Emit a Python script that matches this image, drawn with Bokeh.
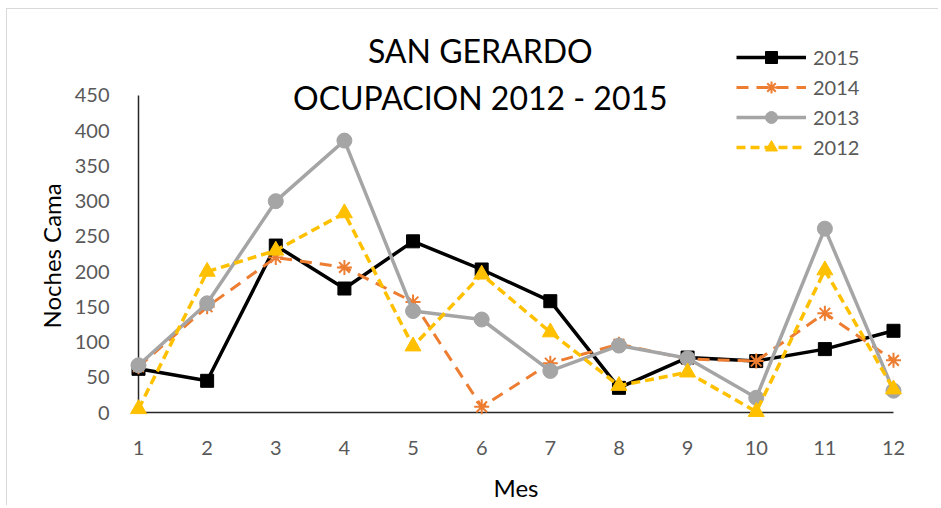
from bokeh.plotting import figure
from bokeh.models import Range1d, FixedTicker, Legend, LegendItem, Label, ColumnDataSource, Title
from bokeh.embed import file_html
from bokeh.resources import INLINE

# ---- data ----
months = [1, 2, 3, 4, 5, 6, 7, 8, 9, 10, 11, 12]
occ_2015 = [62, 45, 237, 176, 243, 203, 158, 35, 78, 73, 90, 116]
occ_2014 = [65, 150, 220, 206, 157, 8, 70, 97, 76, 73, 141, 74]
occ_2013 = [67, 155, 300, 386, 144, 132, 59, 95, 77, 21, 261, 31]
occ_2012 = [5, 200, 230, 283, 94, 196, 114, 38, 57, 1, 202, 33]
y_ticks = [0, 50, 100, 150, 200, 250, 300, 350, 400, 450]
title_lines = ["SAN GERARDO", "OCUPACION 2012 - 2015"]

FONT = "Lato"
TICK_COLOR = "#595959"

p = figure(width=932, height=497, output_backend="svg", toolbar_location=None,
           x_range=Range1d(0.796, 12.204), y_range=Range1d(-17.03, 572.08),
           min_border_left=117, min_border_right=32, min_border_top=0, min_border_bottom=82)
p.styles = {"margin-left": "6px", "margin-top": "8px",
            "border-left": "1px solid #d9d9d9", "border-top": "1px solid #d9d9d9"}
p.outline_line_color = None
p.grid.visible = False
p.background_fill_color = "white"
p.border_fill_color = "white"

# axes
p.xaxis.ticker = FixedTicker(ticks=months)
p.yaxis.ticker = FixedTicker(ticks=y_ticks)
for ax in (p.xaxis[0], p.yaxis[0]):
    ax.axis_line_color = None
    ax.major_tick_line_color = None
    ax.minor_tick_line_color = None
    ax.major_label_text_font = FONT
    ax.major_label_text_font_size = "20px"
    ax.major_label_text_color = TICK_COLOR
    ax.axis_label_text_font = FONT
    ax.axis_label_text_font_size = "24px"
    ax.axis_label_text_font_style = "normal"
    ax.axis_label_text_color = "#000000"
p.xaxis.axis_label = "Mes"
p.xaxis.major_label_standoff = 10
p.yaxis.major_label_standoff = 9
p.xaxis.axis_label_standoff = 15

# y-axis title, placed along the 0..450 span
ytitle = Title(text="Noches Cama", align="left", offset=96, standoff=12,
               text_font=FONT, text_font_size="24px", text_font_style="normal", text_color="#000000")
p.add_layout(ytitle, "left")

# axis lines drawn at data origin
p.segment(x0=[months[0]], y0=[0], x1=[months[-1]], y1=[0], line_color="#262626", line_width=1.5)
p.segment(x0=[months[0]], y0=[0], x1=[months[0]], y1=[y_ticks[-1]], line_color="#262626", line_width=1.5)

src = ColumnDataSource(dict(m=months, a=occ_2015, b=occ_2014, c=occ_2013, d=occ_2012))

l15 = p.line("m", "a", source=src, line_color="black", line_width=3.5)
s15 = p.scatter("m", "a", source=src, marker="square", size=13, fill_color="black", line_color="black")

l14 = p.line("m", "b", source=src, line_color="#ED7D31", line_width=3, line_dash="12 8")
s14 = p.scatter("m", "b", source=src, marker="asterisk", size=15, line_color="#ED7D31", line_width=2)

l13 = p.line("m", "c", source=src, line_color="#A5A5A5", line_width=3.5)
s13 = p.scatter("m", "c", source=src, marker="circle", size=15, fill_color="#A5A5A5", line_color="#A5A5A5")

l12 = p.line("m", "d", source=src, line_color="#FFC000", line_width=3.5, line_dash="9 5")
s12 = p.scatter("m", "d", source=src, marker="triangle", size=16, fill_color="#FFC000", line_color="#FFC000")

legend = Legend(items=[
    LegendItem(label="2015", renderers=[l15, s15]),
    LegendItem(label="2014", renderers=[l14, s14]),
    LegendItem(label="2013", renderers=[l13, s13]),
    LegendItem(label="2012", renderers=[l12, s12]),
], location=(612, 262), glyph_width=70, glyph_height=30, label_height=30,
    label_standoff=7, spacing=0, padding=0, margin=0,
    label_text_font=FONT, label_text_font_size="20px", label_text_color=TICK_COLOR,
    border_line_color=None, background_fill_alpha=0)
p.add_layout(legend, "center")

p.add_layout(Label(x=5.98, y=514.5, text=title_lines[0], text_align="center", text_baseline="alphabetic",
                   text_font=FONT, text_font_size="32px", text_color="#000000"))
p.add_layout(Label(x=5.98, y=447.2, text=title_lines[1], text_align="center", text_baseline="alphabetic",
                   text_font=FONT, text_font_size="32px", text_color="#000000"))

open("out.html", "w").write(file_html(p, INLINE))
